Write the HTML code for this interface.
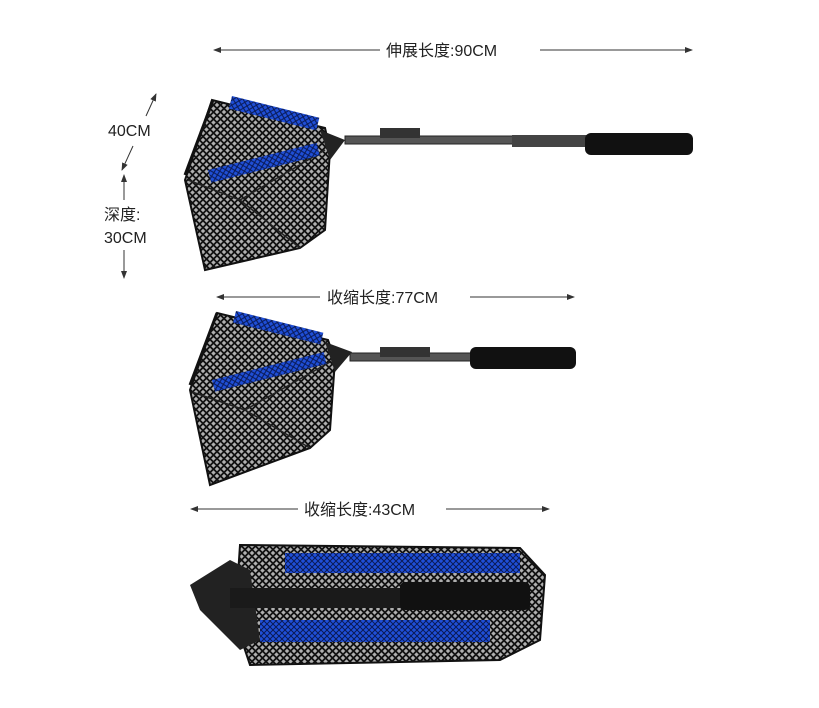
<!DOCTYPE html>
<html><head><meta charset="utf-8"><style>
body{margin:0;background:#fff;}
svg{display:block}
text{font-family:"Liberation Sans","Noto Sans CJK SC",sans-serif;font-size:16px;fill:#222}
</style></head><body>
<svg width="819" height="708" viewBox="0 0 819 708" xmlns="http://www.w3.org/2000/svg">
<defs>
<pattern id="mesh" width="7" height="7" patternUnits="userSpaceOnUse">
<rect width="7" height="7" fill="#b0b0b0"/>
<path d="M0 3.5L3.5 0L7 3.5L3.5 7Z" fill="none" stroke="#111" stroke-width="1.8"/>
</pattern>
<pattern id="bmesh" width="6" height="6" patternUnits="userSpaceOnUse">
<rect width="6" height="6" fill="#1f4fd8"/>
<path d="M0 3L3 0L6 3L3 6Z" fill="none" stroke="#0a1a55" stroke-width="1"/>
</pattern>
<marker id="ah" markerWidth="8" markerHeight="8" refX="7" refY="4" orient="auto"><path d="M0 1L8 4L0 7Z" fill="#333"/></marker>
</defs>
<line x1="380" y1="50" x2="214" y2="50" stroke="#333" marker-end="url(#ah)"/>
<line x1="540" y1="50" x2="692" y2="50" stroke="#333" marker-end="url(#ah)"/>
<text x="386" y="56">伸展长度:90CM</text>
<line x1="320" y1="297" x2="217" y2="297" stroke="#333" marker-end="url(#ah)"/>
<line x1="470" y1="297" x2="574" y2="297" stroke="#333" marker-end="url(#ah)"/>
<text x="327" y="303">收缩长度:77CM</text>
<line x1="298" y1="509" x2="191" y2="509" stroke="#333" marker-end="url(#ah)"/>
<line x1="446" y1="509" x2="549" y2="509" stroke="#333" marker-end="url(#ah)"/>
<text x="304" y="515">收缩长度:43CM</text>
<text x="108" y="136">40CM</text>
<line x1="146" y1="116" x2="156" y2="94" stroke="#333" marker-end="url(#ah)"/>
<line x1="133" y1="146" x2="122" y2="170" stroke="#333" marker-end="url(#ah)"/>
<text x="104" y="220">深度:</text>
<text x="104" y="243">30CM</text>
<line x1="124" y1="200" x2="124" y2="175" stroke="#333" marker-end="url(#ah)"/>
<line x1="124" y1="250" x2="124" y2="278" stroke="#333" marker-end="url(#ah)"/>
<!-- net 1 -->
<path d="M212 100L325 128L330 150L325 230L300 248L205 270L185 180Z" fill="url(#mesh)" stroke="#111" stroke-width="2"/>
<path d="M188 180L240 200L325 150M240 200L300 248" fill="none" stroke="#222" stroke-width="1.5"/>
<path d="M185 175L213 100" stroke="#111" stroke-width="3"/>
<rect x="232" y="96" width="90" height="13" fill="url(#bmesh)" transform="rotate(14 232 96)"/>
<rect x="208" y="170" width="112" height="13" fill="url(#bmesh)" transform="rotate(-14 208 170)"/>
<path d="M320 130L345 140L330 160Z" fill="#222"/>
<rect x="345" y="136" width="170" height="8" fill="#555" stroke="#222"/>
<rect x="380" y="128" width="40" height="10" fill="#333"/>
<rect x="512" y="135" width="75" height="12" fill="#444"/>
<rect x="585" y="133" width="108" height="22" rx="6" fill="#111"/>
<!-- net 2 -->
<path d="M217 313L328 340L335 360L330 430L310 448L210 485L190 390Z" fill="url(#mesh)" stroke="#111" stroke-width="2"/>
<path d="M192 392L245 410L330 362M245 410L310 448" fill="none" stroke="#222" stroke-width="1.5"/>
<path d="M190 385L217 313" stroke="#111" stroke-width="3"/>
<rect x="236" y="311" width="90" height="12" fill="url(#bmesh)" transform="rotate(14 236 311)"/>
<rect x="212" y="380" width="115" height="12" fill="url(#bmesh)" transform="rotate(-14 212 380)"/>
<path d="M325 342L352 352L335 372Z" fill="#222"/>
<rect x="350" y="353" width="125" height="8" fill="#555" stroke="#222"/>
<rect x="380" y="347" width="50" height="10" fill="#333"/>
<rect x="470" y="347" width="106" height="22" rx="6" fill="#111"/>
<!-- folded -->
<path d="M240 545L520 548L545 575L540 640L500 660L250 665L235 620Z" fill="url(#mesh)" stroke="#111" stroke-width="2"/>
<path d="M190 585L230 560L250 570L260 640L240 650L200 610Z" fill="#222"/>
<rect x="285" y="553" width="235" height="20" fill="url(#bmesh)"/>
<rect x="260" y="620" width="230" height="22" fill="url(#bmesh)"/>
<rect x="230" y="588" width="300" height="20" fill="#1a1a1a"/>
<rect x="400" y="582" width="130" height="28" rx="5" fill="#111"/>
</svg>
</body></html>
